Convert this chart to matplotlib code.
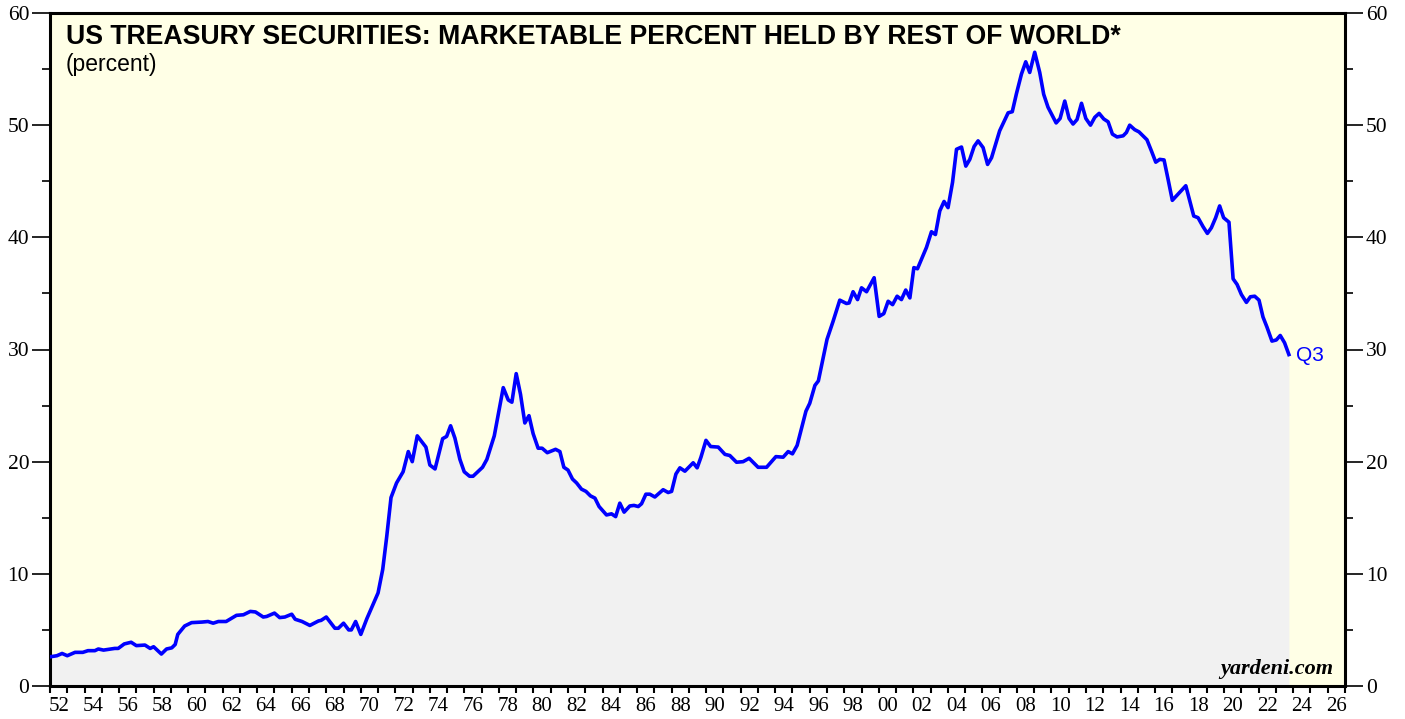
import numpy
import matplotlib
matplotlib.use('Agg')
import matplotlib.pyplot as plt
from matplotlib.ticker import MultipleLocator, FixedLocator, FixedFormatter

# ─────────────────────────────────────────────────────────────
# DATA  (decimal year, percent held by rest of world)
# ─────────────────────────────────────────────────────────────

years = [
    1952.00, 1952.40, 1952.70, 1953.00, 1953.45, 1953.90, 1954.20, 1954.60, 1954.80, 1955.10,
    1955.75, 1955.95, 1956.30, 1956.70, 1957.00, 1957.50, 1957.80, 1958.00, 1958.45, 1958.75,
    1959.05, 1959.25, 1959.40, 1959.80, 1960.20, 1960.80, 1961.15, 1961.45, 1961.75, 1962.20,
    1962.80, 1963.20, 1963.60, 1963.90, 1964.35, 1964.55, 1965.00, 1965.30, 1965.60, 1966.00,
    1966.20, 1966.60, 1967.05, 1967.55, 1967.70, 1968.00, 1968.50, 1968.70, 1969.00, 1969.30,
    1969.45, 1969.70, 1970.00, 1970.35, 1971.00, 1971.27, 1971.50, 1971.75, 1972.07, 1972.45,
    1972.75, 1972.98, 1973.27, 1973.77, 1974.00, 1974.30, 1974.74, 1974.97, 1975.20, 1975.45,
    1975.74, 1975.99, 1976.30, 1976.50, 1977.05, 1977.30, 1977.73, 1978.25, 1978.54, 1978.75,
    1979.00, 1979.25, 1979.50, 1979.74, 1979.98, 1980.27, 1980.50, 1980.80, 1981.28, 1981.53,
    1981.76, 1982.00, 1982.26, 1982.50, 1982.78, 1983.04, 1983.30, 1983.56, 1983.80, 1984.23,
    1984.52, 1984.76, 1985.00, 1985.25, 1985.58, 1985.82, 1986.07, 1986.26, 1986.51, 1986.74,
    1987.03, 1987.32, 1987.51, 1987.80, 1988.00, 1988.25, 1988.48, 1988.77, 1989.25, 1989.48,
    1989.70, 1989.99, 1990.26, 1990.70, 1991.09, 1991.37, 1991.76, 1992.14, 1992.49, 1993.01,
    1993.50, 1994.04, 1994.46, 1994.75, 1995.00, 1995.27, 1995.53, 1995.78, 1996.00, 1996.30,
    1996.50, 1997.00, 1997.35, 1997.74, 1998.13, 1998.28, 1998.51, 1998.77, 1999.00, 1999.29,
    1999.73, 2000.02, 2000.29, 2000.54, 2000.80, 2001.06, 2001.31, 2001.56, 2001.80, 2002.03,
    2002.24, 2002.76, 2003.05, 2003.28, 2003.53, 2003.78, 2004.01, 2004.27, 2004.50, 2004.79,
    2005.04, 2005.27, 2005.52, 2005.75, 2006.04, 2006.30, 2006.53, 2007.00, 2007.49, 2007.73,
    2007.97, 2008.26, 2008.51, 2008.74, 2009.03, 2009.32, 2009.55, 2009.80, 2010.27, 2010.50,
    2010.77, 2011.02, 2011.25, 2011.48, 2011.74, 2011.99, 2012.26, 2012.51, 2012.76, 2013.03,
    2013.28, 2013.53, 2013.80, 2014.15, 2014.34, 2014.53, 2014.82, 2015.07, 2015.53, 2015.79,
    2016.04, 2016.27, 2016.52, 2016.75, 2017.00, 2017.39, 2017.78, 2018.01, 2018.24, 2018.49,
    2018.78, 2019.03, 2019.26, 2019.51, 2019.74, 2019.97, 2020.28, 2020.52, 2020.75, 2021.00,
    2021.29, 2021.52, 2021.77, 2022.02, 2022.25, 2022.48, 2022.77, 2023.02, 2023.25, 2023.50,
    2023.75,
]

pct_held = [
    2.6, 2.7, 2.9, 2.7, 3.0, 3.0, 3.15, 3.15, 3.3, 3.2,
    3.35, 3.35, 3.75, 3.9, 3.6, 3.65, 3.35, 3.5, 2.85, 3.3,
    3.4, 3.7, 4.6, 5.35, 5.65, 5.7, 5.75, 5.6, 5.75, 5.75,
    6.3, 6.35, 6.65, 6.6, 6.15, 6.2, 6.5, 6.1, 6.15, 6.4,
    5.95, 5.75, 5.4, 5.8, 5.85, 6.15, 5.15, 5.15, 5.6, 5.0,
    5.0, 5.75, 4.6, 6.0, 8.3, 10.4, 13.3, 16.8, 18.1, 19.1,
    20.9, 20.0, 22.3, 21.3, 19.7, 19.35, 22.05, 22.25, 23.2, 22.1,
    20.2, 19.1, 18.7, 18.7, 19.5, 20.2, 22.3, 26.6, 25.5, 25.3,
    27.85, 26.0, 23.45, 24.1, 22.5, 21.2, 21.2, 20.8, 21.1, 20.9,
    19.5, 19.25, 18.45, 18.1, 17.55, 17.35, 16.95, 16.75, 16.0, 15.25,
    15.35, 15.1, 16.3, 15.5, 16.05, 16.1, 16.0, 16.25, 17.1, 17.1,
    16.85, 17.25, 17.5, 17.25, 17.35, 18.9, 19.45, 19.15, 19.9, 19.45,
    20.4, 21.9, 21.35, 21.3, 20.65, 20.55, 19.95, 20.0, 20.3, 19.5,
    19.5, 20.45, 20.4, 20.9, 20.7, 21.45, 23.0, 24.5, 25.2, 26.8,
    27.2, 30.9, 32.5, 34.4, 34.1, 34.15, 35.15, 34.45, 35.5, 35.15,
    36.4, 32.95, 33.2, 34.3, 34.0, 34.75, 34.45, 35.3, 34.6, 37.3,
    37.2, 39.1, 40.5, 40.25, 42.35, 43.2, 42.65, 44.9, 47.85, 48.05,
    46.35, 46.95, 48.1, 48.6, 48.0, 46.5, 47.1, 49.5, 51.1, 51.2,
    52.8, 54.55, 55.65, 54.7, 56.5, 54.7, 52.75, 51.6, 50.2, 50.6,
    52.15, 50.6, 50.1, 50.5, 51.95, 50.6, 50.0, 50.7, 51.05, 50.55,
    50.3, 49.2, 48.95, 49.05, 49.35, 50.0, 49.6, 49.4, 48.7, 47.7,
    46.7, 46.95, 46.9, 45.2, 43.3, 43.95, 44.6, 43.25, 41.9, 41.75,
    40.95, 40.35, 40.85, 41.75, 42.8, 41.75, 41.35, 36.3, 35.8, 34.9,
    34.2, 34.7, 34.75, 34.4, 32.9, 32.0, 30.75, 30.85, 31.25, 30.6,
    29.55,
]

tick_years  = list(range(1952, 2027, 2))
tick_labels = [f"{y % 100:02d}" for y in tick_years]
y_ticks     = [0, 10, 20, 30, 40, 50, 60]

# ─────────────────────────────────────────────────────────────
# PLOT
# ─────────────────────────────────────────────────────────────

fig = plt.figure(figsize=(14.05, 7.19), dpi=100)
ax  = fig.add_axes([50 / 1405, 33 / 719, 1295 / 1405, 673 / 719])
ax.set_facecolor("#FFFFE6")

ax.fill_between(years, 0, pct_held, color="#F1F1F1", linewidth=0, zorder=1)
ax.plot(years, pct_held, color="#0000FF", linewidth=2.6, solid_joinstyle="round", zorder=3)

ax.set_xlim(1952, 2027)
ax.set_ylim(0, 60)

# x axis: a tick every year, labels centred in even years
ax.xaxis.set_major_locator(MultipleLocator(1))
ax.xaxis.set_major_formatter(FixedFormatter([]))
ax.xaxis.set_minor_locator(FixedLocator([y + 0.5 for y in tick_years]))
ax.xaxis.set_minor_formatter(FixedFormatter(tick_labels))
ax.tick_params(axis="x", which="major", direction="out", length=5, width=1.5, labelbottom=False)
ax.tick_params(axis="x", which="minor", length=0, pad=8, labelsize=15)

# y axis: both sides labelled
ax.set_yticks(y_ticks)
ax.yaxis.set_minor_locator(MultipleLocator(5))
ax.tick_params(axis="y", which="major", direction="out", length=13, width=1.2,
               left=True, right=True, labelleft=True, labelright=True, labelsize=15.5, pad=2)
ax.tick_params(axis="y", which="minor", direction="out", length=6, width=1.2, left=True, right=True)

for lab in ax.xaxis.get_ticklabels(which="both") + ax.yaxis.get_ticklabels(which="both"):
    lab.set_fontfamily("Liberation Serif")

for side in ["left", "right", "top", "bottom"]:
    ax.spines[side].set_linewidth(2.2)
    ax.spines[side].set_color("black")

ax.text(0.012, 0.983, "US TREASURY SECURITIES: MARKETABLE PERCENT HELD BY REST OF WORLD*",
        transform=ax.transAxes, ha="left", va="top", fontsize=19.2, fontweight="bold",
        fontfamily="Liberation Sans")
ax.text(0.012, 0.94, "(percent)", transform=ax.transAxes, ha="left", va="top",
        fontsize=16.5, fontfamily="Liberation Sans")

ax.annotate("Q3", xy=(years[-1], pct_held[-1]), xytext=(5, -1), textcoords="offset points",
            ha="left", va="center", color="#0000FF", fontsize=15, fontfamily="Liberation Sans")

ax.text(0.991, 0.01, "yardeni.com", transform=ax.transAxes, ha="right", va="bottom",
        fontsize=16, fontweight="bold", fontstyle="italic", fontfamily="Liberation Serif", zorder=6)

plt.savefig("out.png", dpi=100)
plt.close()
